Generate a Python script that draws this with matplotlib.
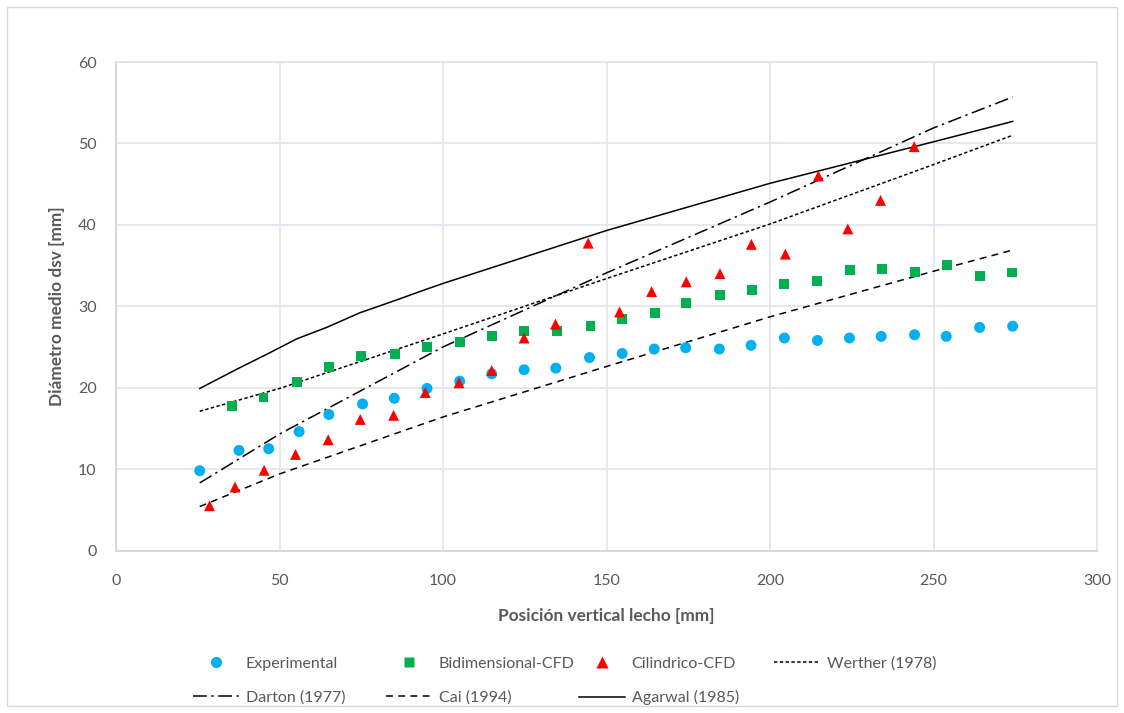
import matplotlib
matplotlib.use("Agg")
import matplotlib.pyplot as plt
from matplotlib.lines import Line2D
from matplotlib.patches import Rectangle

plt.rcParams['font.family'] = ['Lato', 'DejaVu Sans']

# Measured bubble diameters
exp_x = [25.6, 37.6, 46.7, 56.0, 65.1, 75.4, 85.1, 95.1, 105.1, 114.9, 124.8, 134.5, 144.8,
         154.8, 164.6, 174.2, 184.5, 194.2, 204.4, 214.5, 224.3, 234.0, 244.2, 253.9, 264.1, 274.2]
exp_y = [9.8, 12.3, 12.5, 14.6, 16.7, 18.0, 18.7, 19.9, 20.8, 21.7, 22.2, 22.4, 23.7,
         24.2, 24.75, 24.9, 24.75, 25.2, 26.1, 25.8, 26.1, 26.3, 26.5, 26.3, 27.4, 27.55]

bid_x = [35.4, 45.1, 55.3, 65.1, 74.9, 85.3, 95.0, 105.2, 114.9, 124.7, 134.8, 145.1, 154.7,
         164.9, 174.4, 184.7, 194.4, 204.3, 214.3, 224.4, 234.3, 244.3, 254.2, 264.2, 274.1]
bid_y = [17.7, 18.8, 20.7, 22.5, 23.9, 24.1, 25.0, 25.65, 26.3, 27.0, 27.0, 27.6, 28.4,
         29.2, 30.4, 31.4, 32.0, 32.7, 33.15, 34.45, 34.6, 34.2, 35.1, 33.7, 34.15]

cil_x = [28.6, 36.4, 45.3, 54.9, 64.9, 74.7, 84.9, 94.6, 104.9, 114.9, 124.8, 134.4, 144.4,
         154.0, 163.8, 174.4, 184.7, 194.3, 204.7, 214.8, 223.8, 233.8, 244.1]
cil_y = [5.5, 7.8, 9.85, 11.8, 13.6, 16.1, 16.6, 19.4, 20.6, 22.1, 26.1, 27.8, 37.75,
         29.3, 31.8, 33.0, 34.0, 37.6, 36.4, 46.0, 39.5, 43.0, 49.6]

# Correlations
corr_x = [25.6, 50, 100, 150, 200, 250, 274.2]
werther_y = [17.1, 19.9, 26.6, 33.4, 40.1, 47.4, 51.0]
darton_y = [8.3, 14.3, 25.0, 34.1, 42.8, 51.9, 55.7]
cai_y = [5.4, 9.4, 16.4, 22.6, 28.7, 34.3, 36.9]
agarwal_x = [25.6, 37.6, 46.6, 55.3, 64.4, 74.6, 85.3, 95.0, 100, 150, 200, 250, 274.2]
agarwal_y = [19.9, 22.4, 24.2, 26.0, 27.4, 29.2, 30.7, 32.1, 32.8, 39.3, 45.1, 50.2, 52.7]

x_ticks = [0, 50, 100, 150, 200, 250, 300]
y_ticks = [0, 10, 20, 30, 40, 50, 60]

W, H = 1124, 713
fig = plt.figure(figsize=(W / 100, H / 100), dpi=100)
ax = fig.add_axes([116 / W, 1 - 550.5 / H, 981 / W, 488.5 / H])

grid_c = '#E1E4EA'
text_c = '#595959'
fs = 11.5
fs_lab = 12.4

ax.set_xlim(0, 300)
ax.set_ylim(0, 60)
ax.set_xticks(x_ticks)
ax.set_yticks(y_ticks)
ax.grid(True, color=grid_c, linewidth=1.2)
ax.set_axisbelow(True)
for s in ax.spines.values():
    s.set_color(grid_c)
    s.set_linewidth(1.2)
ax.spines['left'].set_color('#D0D3D9')
ax.spines['bottom'].set_color('#D0D3D9')
ax.tick_params(length=0, labelsize=fs, labelcolor=text_c)
ax.tick_params(axis='y', pad=14)
ax.tick_params(axis='x', pad=17)

lw = 1.1
ls_wer = (0, (2.2, 1.6))
ls_dar = (0, (9, 3, 1.5, 3))
ls_cai = (0, (4.5, 3.5))
ax.plot(corr_x, werther_y, color='black', lw=lw, ls=ls_wer)
ax.plot(corr_x, darton_y, color='black', lw=lw, ls=ls_dar)
ax.plot(corr_x, cai_y, color='black', lw=lw, ls=ls_cai)
ax.plot(agarwal_x, agarwal_y, color='black', lw=lw, ls='-')

ax.scatter(exp_x, exp_y, s=62, marker='o', color='#00B0F0', edgecolors='none', zorder=3)
ax.scatter(bid_x, bid_y, s=50, marker='s', color='#00B050', edgecolors='none', zorder=3)
ax.scatter(cil_x, cil_y, s=62, marker='^', color='#FF0000', edgecolors='none', zorder=4)

ax.set_xlabel('Posición vertical lecho [mm]', fontsize=fs_lab, fontweight='bold', color=text_c, labelpad=14)
ax.set_ylabel('Diámetro medio dsv [mm]', fontsize=fs_lab, fontweight='bold', color=text_c, labelpad=9)

# Legend handles
h_exp = Line2D([], [], ls='none', marker='o', ms=8, color='#00B0F0', mec='none')
h_bid = Line2D([], [], ls='none', marker='s', ms=7.2, color='#00B050', mec='none')
h_cil = Line2D([], [], ls='none', marker='^', ms=8, color='#FF0000', mec='none')
h_wer = Line2D([], [], color='black', lw=lw, ls=ls_wer)
h_dar = Line2D([], [], color='black', lw=lw, ls=ls_dar)
h_cai = Line2D([], [], color='black', lw=lw, ls=ls_cai)
h_aga = Line2D([], [], color='black', lw=lw)

columns = [
    (193, [h_exp, h_dar], ['Experimental', 'Darton (1977)']),
    (386, [h_bid, h_cai], ['Bidimensional-CFD', 'Cai (1994)']),
    (579, [h_cil, h_aga], ['Cilindrico-CFD', 'Agarwal (1985)']),
    (774, [h_wer], ['Werther (1978)']),
]
for px, hs, labs in columns:
    leg = fig.legend(hs, labs, loc='upper left', bbox_to_anchor=(px / W, 1 - 656.5 / H),
                     frameon=False, fontsize=fs, borderpad=0, borderaxespad=0,
                     handlelength=2.9, handletextpad=0.4, labelspacing=1.22)
    for t in leg.get_texts():
        t.set_color(text_c)

# Chart area border
fig.add_artist(Rectangle((7 / W, 7 / H), 1 - 14 / W, 1 - 14 / H, transform=fig.transFigure,
                         fill=False, edgecolor='#D9D9D9', linewidth=1))

fig.savefig('out.png', dpi=100)
